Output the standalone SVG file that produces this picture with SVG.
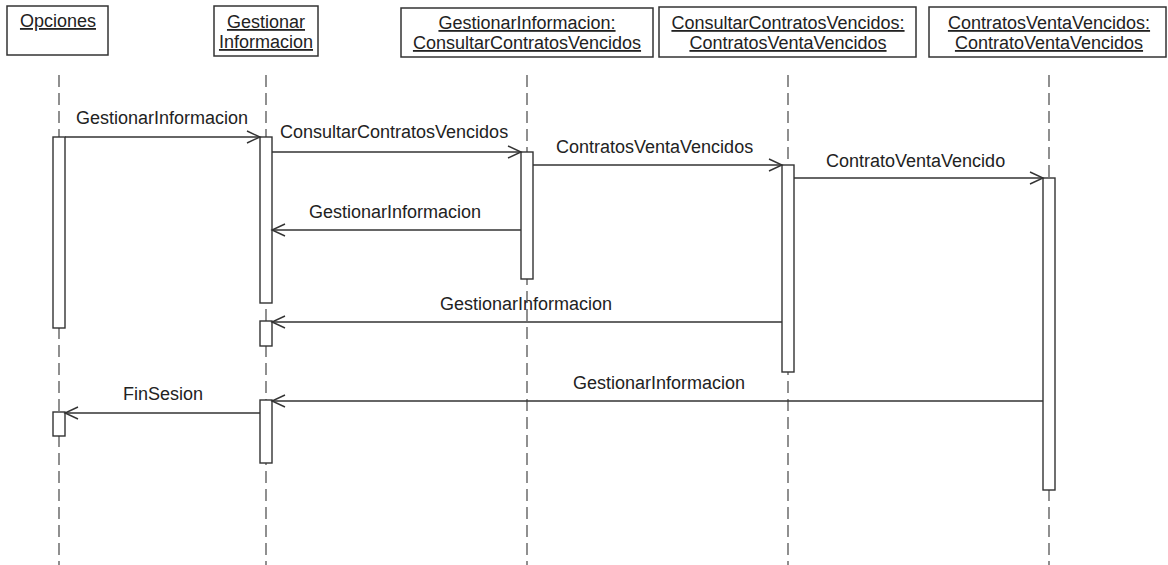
<svg xmlns="http://www.w3.org/2000/svg" width="1168" height="565" viewBox="0 0 1168 565">
  <style>
    text { font-family: "Liberation Sans", Arial, sans-serif; font-size: 18px; fill: #222; }
    .head { fill: #fff; stroke: #333; stroke-width: 1.5; }
    .ul { text-decoration: underline; text-anchor: middle; }
    .life { stroke: #555; stroke-width: 1.3; stroke-dasharray: 12 6; fill: none; }
    .act { fill: #fff; stroke: #333; stroke-width: 1.4; }
    .msg { stroke: #333; stroke-width: 1.4; fill: none; marker-end: url(#open); }
  </style>
  <defs>
    <marker id="open" markerWidth="16" markerHeight="14" refX="14" refY="7" orient="auto" markerUnits="userSpaceOnUse">
      <path d="M1,1 L14,7 L1,13" fill="none" stroke="#333" stroke-width="1.4"/>
    </marker>
  </defs>
  <rect width="1168" height="565" fill="#fff"/>

  <!-- lifelines -->
  <g id="lifelines">
    <line class="life" x1="59" y1="75" x2="59" y2="565"/>
    <line class="life" x1="266" y1="75" x2="266" y2="565"/>
    <line class="life" x1="527" y1="75" x2="527" y2="565"/>
    <line class="life" x1="788" y1="75" x2="788" y2="565"/>
    <line class="life" x1="1049" y1="75" x2="1049" y2="565"/>
  </g>

  <g id="opciones">
    <rect class="head" x="7" y="6" width="101" height="49"/>
    <text class="ul" x="58" y="27">Opciones</text>
    <rect class="act" x="53" y="137" width="12" height="191"/>
    <rect class="act" x="53" y="412" width="12" height="24"/>
  </g>

  <g id="gestionar-informacion">
    <rect class="head" x="214" y="6" width="104" height="50"/>
    <text class="ul" x="266" y="28">Gestionar</text>
    <text class="ul" x="266" y="48">Informacion</text>
    <rect class="act" x="260" y="137" width="12" height="166"/>
    <rect class="act" x="260" y="321" width="12" height="25"/>
    <rect class="act" x="260" y="400" width="12" height="63"/>
  </g>

  <g id="gi-consultar">
    <rect class="head" x="401" y="8" width="252" height="49"/>
    <text class="ul" x="527" y="29">GestionarInformacion:</text>
    <text class="ul" x="527" y="49">ConsultarContratosVencidos</text>
    <rect class="act" x="521" y="152" width="12" height="127"/>
  </g>

  <g id="consultar-contratos">
    <rect class="head" x="659" y="7" width="257" height="50"/>
    <text class="ul" x="788" y="29">ConsultarContratosVencidos:</text>
    <text class="ul" x="788" y="49">ContratosVentaVencidos</text>
    <rect class="act" x="782" y="165" width="12" height="207"/>
  </g>

  <g id="contratos-venta">
    <rect class="head" x="929" y="7" width="237" height="50"/>
    <text class="ul" x="1049" y="29">ContratosVentaVencidos:</text>
    <text class="ul" x="1049" y="49">ContratoVentaVencidos</text>
    <rect class="act" x="1043" y="178" width="12" height="312"/>
  </g>

  <!-- messages -->
  <g id="connectors">
    <line class="msg" x1="65" y1="137" x2="260" y2="137"/>
    <text x="76" y="124">GestionarInformacion</text>

    <line class="msg" x1="272" y1="152" x2="521" y2="152"/>
    <text x="280" y="138">ConsultarContratosVencidos</text>

    <line class="msg" x1="533" y1="165" x2="782" y2="165"/>
    <text x="556" y="153">ContratosVentaVencidos</text>

    <line class="msg" x1="794" y1="178" x2="1043" y2="178"/>
    <text x="826" y="167">ContratoVentaVencido</text>

    <line class="msg" x1="521" y1="230" x2="272" y2="230"/>
    <text x="309" y="218">GestionarInformacion</text>

    <line class="msg" x1="782" y1="322" x2="272" y2="322"/>
    <text x="440" y="310">GestionarInformacion</text>

    <line class="msg" x1="1043" y1="401" x2="272" y2="401"/>
    <text x="573" y="389">GestionarInformacion</text>

    <line class="msg" x1="260" y1="413" x2="65" y2="413"/>
    <text x="123" y="400">FinSesion</text>
  </g>
</svg>
